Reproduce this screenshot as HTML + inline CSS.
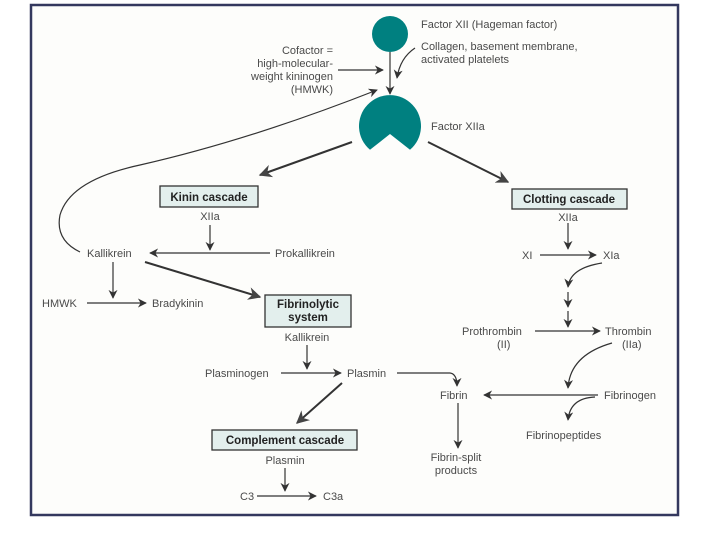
<!DOCTYPE html>
<html><head><meta charset="utf-8"><style>
html,body{margin:0;padding:0;background:#fff;}
svg{display:block;}
text{font-family:"Liberation Sans",sans-serif;font-size:11px;fill:#4a4a4a;}
.b{font-weight:bold;fill:#222;font-size:11.5px;}
</style></head><body>
<svg width="720" height="540" viewBox="0 0 720 540" xmlns="http://www.w3.org/2000/svg">
<defs>
<marker id="a" viewBox="0 0 10 10" refX="9" refY="5" markerWidth="9" markerHeight="9" markerUnits="userSpaceOnUse" orient="auto"><path d="M0,0 L10,5 L0,10 L3,5z" fill="#333"/></marker>
<marker id="A" viewBox="0 0 10 10" refX="9" refY="5" markerWidth="13" markerHeight="13" markerUnits="userSpaceOnUse" orient="auto"><path d="M0,0 L10,5 L0,10 L3,5z" fill="#444"/></marker>
</defs>
<rect x="0" y="0" width="720" height="540" fill="#fff"/>
<rect x="31" y="5" width="647" height="510" fill="#fdfdfb" stroke="#34385e" stroke-width="2.5"/>
<g stroke="#333" fill="none" stroke-width="1.2">
<circle cx="390" cy="34" r="18" fill="#008080" stroke="none"/>
<path d="M390,126 m-20,23.8 A31,31 0 1 1 410,149.8 L390,134 Z" fill="#008080" stroke="none"/>
<line x1="390" y1="52" x2="390" y2="94" marker-end="url(#a)"/>
<line x1="338" y1="70" x2="383" y2="70" marker-end="url(#a)"/>
<path d="M415,48 Q400,58 397,78" marker-end="url(#a)"/>
<path d="M80,252 Q55,240 60,215 Q70,180 140,165 Q250,140 377,90" marker-end="url(#a)"/>
<line x1="352" y1="142" x2="260" y2="175" stroke-width="2" marker-end="url(#A)"/>
<line x1="428" y1="142" x2="508" y2="182" stroke-width="2" marker-end="url(#A)"/>
<line x1="210" y1="225" x2="210" y2="250" marker-end="url(#a)"/>
<line x1="270" y1="253" x2="150" y2="253" marker-end="url(#a)"/>
<line x1="113" y1="262" x2="113" y2="298" marker-end="url(#a)"/>
<line x1="87" y1="303" x2="146" y2="303" marker-end="url(#a)"/>
<line x1="145" y1="262" x2="260" y2="297" stroke-width="2" marker-end="url(#A)"/>
<line x1="307" y1="345" x2="307" y2="369" marker-end="url(#a)"/>
<line x1="281" y1="373" x2="341" y2="373" marker-end="url(#a)"/>
<path d="M397,373 L450,373 Q457,374 457,386" marker-end="url(#a)"/>
<line x1="342" y1="383" x2="297" y2="423" stroke-width="2" marker-end="url(#A)"/>
<line x1="285" y1="468" x2="285" y2="491" marker-end="url(#a)"/>
<line x1="257" y1="496" x2="316" y2="496" marker-end="url(#a)"/>
<line x1="568" y1="223" x2="568" y2="249" marker-end="url(#a)"/>
<line x1="540" y1="255" x2="596" y2="255" marker-end="url(#a)"/>
<path d="M602,263 Q570,268 568,287" marker-end="url(#a)"/>
<line x1="568" y1="292" x2="568" y2="307" marker-end="url(#a)"/>
<line x1="568" y1="311" x2="568" y2="327" marker-end="url(#a)"/>
<line x1="535" y1="331" x2="600" y2="331" marker-end="url(#a)"/>
<path d="M612,343 Q570,355 568,388" marker-end="url(#a)"/>
<line x1="598" y1="395" x2="484" y2="395" marker-end="url(#a)"/>
<path d="M595,397 Q570,398 568,420" marker-end="url(#a)"/>
<line x1="458" y1="403" x2="458" y2="448" marker-end="url(#a)"/>
</g>
<g stroke="#333" stroke-width="1.3" fill="#e3efed">
<rect x="160" y="186" width="98" height="21"/>
<rect x="512" y="189" width="115" height="20"/>
<rect x="265" y="295" width="86" height="32"/>
<rect x="212" y="430" width="145" height="20"/>
</g>
<text class="b" x="209" y="201" text-anchor="middle">Kinin cascade</text>
<text class="b" x="569" y="203" text-anchor="middle">Clotting cascade</text>
<text class="b" x="308" y="308" text-anchor="middle">Fibrinolytic</text>
<text class="b" x="308" y="321" text-anchor="middle">system</text>
<text class="b" x="285" y="444" text-anchor="middle">Complement cascade</text>
<text x="421" y="28">Factor XII (Hageman factor)</text>
<text x="421" y="50">Collagen, basement membrane,</text>
<text x="421" y="63">activated platelets</text>
<g text-anchor="end"><text x="333" y="54">Cofactor =</text><text x="333" y="67">high-molecular-</text><text x="333" y="80">weight kininogen</text><text x="333" y="93">(HMWK)</text></g>
<text x="431" y="130">Factor XIIa</text>
<text x="210" y="220" text-anchor="middle">XIIa</text>
<text x="275" y="257">Prokallikrein</text>
<text x="87" y="257">Kallikrein</text>
<text x="42" y="307">HMWK</text>
<text x="152" y="307">Bradykinin</text>
<text x="307" y="341" text-anchor="middle">Kallikrein</text>
<text x="205" y="377">Plasminogen</text>
<text x="347" y="377">Plasmin</text>
<text x="285" y="464" text-anchor="middle">Plasmin</text>
<text x="240" y="500">C3</text>
<text x="323" y="500">C3a</text>
<text x="568" y="221" text-anchor="middle">XIIa</text>
<text x="522" y="259">XI</text>
<text x="603" y="259">XIa</text>
<text x="462" y="335">Prothrombin</text>
<text x="497" y="348">(II)</text>
<text x="605" y="335">Thrombin</text>
<text x="622" y="348">(IIa)</text>
<text x="604" y="399">Fibrinogen</text>
<text x="440" y="399">Fibrin</text>
<text x="526" y="439">Fibrinopeptides</text>
<text x="456" y="461" text-anchor="middle">Fibrin-split</text>
<text x="456" y="474" text-anchor="middle">products</text>
</svg>
</body></html>
